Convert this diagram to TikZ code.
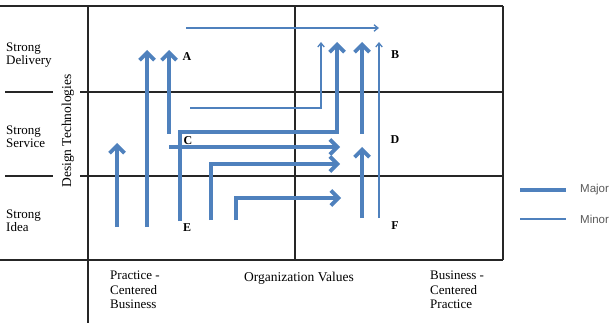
\documentclass[tikz,border=0pt]{standalone}
\usepackage{fontspec}
\setmainfont{Liberation Serif}
\newfontfamily\legendfont{Liberation Sans}
\usetikzlibrary{arrows.meta}
\definecolor{flowblue}{RGB}{79,129,189}

\begin{document}
\begin{tikzpicture}[x=1pt,y=-1pt,
    grid/.style={line width=1.2pt,black!85},
    major/.style={flowblue,line width=3.8pt,-{Straight Barb[length=7.5pt,width=15pt]}},
    minor/.style={flowblue,line width=1.3pt,-{Straight Barb[length=4pt,width=6.5pt]}},
    rowlabel/.style={anchor=west,align=left,inner sep=0pt,font=\fontsize{13}{13.5}\selectfont},
    collabel/.style={anchor=north west,align=left,inner sep=0pt,font=\fontsize{13}{14.5}\selectfont},
    letter/.style={inner sep=0pt,font=\fontsize{12}{13}\selectfont\bfseries},
    legendtext/.style={anchor=west,inner sep=0pt,text=black!65,font=\fontsize{11.5}{13}\selectfont\legendfont}]
    \useasboundingbox (0,0) rectangle (612,323);
    % grid
    \draw[grid] (0,6) -- (503,6);
    \draw[grid] (5,92) -- (53,92) (80,92) -- (503,92);
    \draw[grid] (5,176) -- (53,176) (80,176) -- (503,176);
    \draw[grid] (0,260) -- (503,260);
    \draw[grid] (88,6) -- (88,323);
    \draw[grid] (295,6) -- (295,260);
    \draw[grid] (503,6) -- (503,260);
    % labels
    \node[rowlabel] (delivery) at (6,55) {Strong\\Delivery};
    \node[rowlabel] (service) at (6,137) {Strong\\Service};
    \node[rowlabel] (idea) at (6,221) {Strong\\Idea};
    \node[rotate=90,inner sep=0pt,font=\fontsize{13.5}{14}\selectfont] (design) at (68,131) {Design Technologies};
    \node[collabel] (practice) at (110,271) {Practice -\\Centered\\Business};
    \node[inner sep=0pt,font=\fontsize{13.5}{14}\selectfont] (values) at (299,278) {Organization Values};
    \node[collabel] (business) at (430,271) {Business -\\Centered\\Practice};
    \node[letter] (A) at (187,57) {A};
    \node[letter] (B) at (395,55) {B};
    \node[letter] (C) at (188,141) {C};
    \node[letter] (D) at (395,140) {D};
    \node[letter] (E) at (187,228) {E};
    \node[letter] (F) at (395,226) {F};
    % arrow points
    \coordinate (a1) at (117,227); \coordinate (a1t) at (117,143);
    \coordinate (a2) at (147,227); \coordinate (a2t) at (147,50);
    \coordinate (a3) at (169,134); \coordinate (a3t) at (169,50);
    \coordinate (e1) at (180,221); \coordinate (e1k) at (180,132);
    \coordinate (e1j) at (337,132); \coordinate (e1t) at (337,42);
    \coordinate (c1) at (169,147); \coordinate (c1t) at (340,147);
    \coordinate (e2) at (211,220); \coordinate (e2k) at (211,164); \coordinate (e2t) at (340,164);
    \coordinate (e3) at (236,220); \coordinate (e3k) at (236,198); \coordinate (e3t) at (341,198);
    \coordinate (d1) at (362,134); \coordinate (d1t) at (362,42);
    \coordinate (f1) at (362,218); \coordinate (f1t) at (362,147);
    \coordinate (t1) at (186,28); \coordinate (t1t) at (379,28);
    \coordinate (s1) at (190,108); \coordinate (s1k) at (321,108); \coordinate (s1t) at (321,42);
    \coordinate (f2) at (379,218); \coordinate (f2t) at (379,42);
    % major flows
    \draw[major] (a1) -- (a1t);
    \draw[major] (a2) -- (a2t);
    \draw[major] (a3) -- (a3t);
    \draw[major] (e1) -- (e1k) -- (e1j) -- (e1t);
    \draw[major] (c1) -- (c1t);
    \draw[major] (e2) -- (e2k) -- (e2t);
    \draw[major] (e3) -- (e3k) -- (e3t);
    \draw[major] (d1) -- (d1t);
    \draw[major] (f1) -- (f1t);
    % minor flows
    \draw[minor] (t1) -- (t1t);
    \draw[minor] (s1) -- (s1k) -- (s1t);
    \draw[minor] (f2) -- (f2t);
    % legend
    \coordinate (lmaj) at (520,190); \coordinate (lmaje) at (566,190);
    \coordinate (lmin) at (520,219); \coordinate (lmine) at (566,219);
    \draw[flowblue,line width=3.8pt] (lmaj) -- (lmaje);
    \draw[flowblue,line width=1.3pt] (lmin) -- (lmine);
    \node[legendtext] (major) at (580,190) {Major};
    \node[legendtext] (minor) at (580,219) {Minor};
\end{tikzpicture}
\end{document}
